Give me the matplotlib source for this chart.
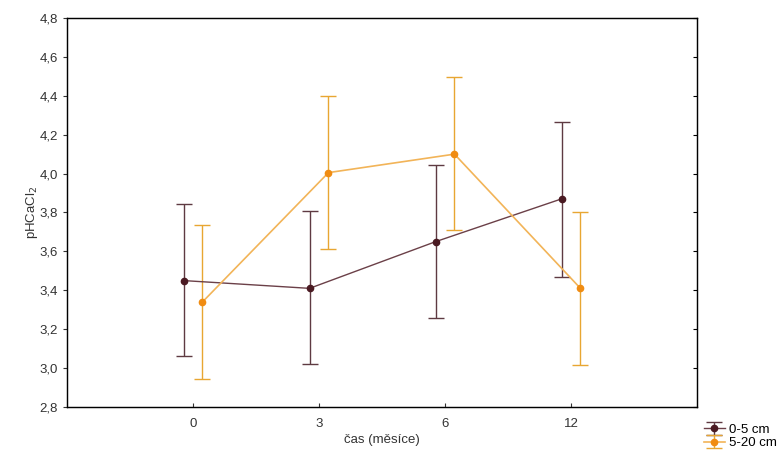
import numpy as np
import matplotlib
matplotlib.use("Agg")
import matplotlib.pyplot as plt

plt.rcParams['font.family'] = ['Liberation Sans', 'DejaVu Sans']

# months (categorical)
months = ['0', '3', '6', '12']

# 0-5 cm depth
mean_05 = [3.45, 3.41, 3.65, 3.87]
lo_05 = [3.06, 3.02, 3.26, 3.47]
hi_05 = [3.845, 3.81, 4.045, 4.265]

# 5-20 cm depth
mean_520 = [3.34, 4.005, 4.10, 3.41]
lo_520 = [2.945, 3.61, 3.71, 3.015]
hi_520 = [3.735, 4.40, 4.495, 3.805]

yticks = [2.8, 3.0, 3.2, 3.4, 3.6, 3.8, 4.0, 4.2, 4.4, 4.6, 4.8]

fig = plt.figure(figsize=(7.82, 4.54), dpi=100)
ax = fig.add_axes([0.0857, 0.1035, 0.8056, 0.8569])

x = np.arange(len(months))
off = 0.075

m1 = np.array(mean_05)
m2 = np.array(mean_520)
err1 = [m1 - np.array(lo_05), np.array(hi_05) - m1]
err2 = [m2 - np.array(lo_520), np.array(hi_520) - m2]

h1 = ax.errorbar(x - off, m1, yerr=err1, color='#6b4048', ecolor='#5e3a42',
                 lw=1.0, elinewidth=1.0, capsize=6, capthick=1.0,
                 marker='o', ms=4.5, mfc='#4a1a22', mec='#4a1a22', label='0-5 cm', zorder=3)
h2 = ax.errorbar(x + off, m2, yerr=err2, color='#f2b458', ecolor='#e8a632',
                 lw=1.2, elinewidth=1.0, capsize=6, capthick=1.0,
                 marker='o', ms=4.5, mfc='#f08c12', mec='#f08c12', label='5-20 cm', zorder=3)

ax.set_xlim(-1, 4)
ax.set_ylim(2.8, 4.8)
ax.set_xticks(x)
ax.set_xticklabels(months)
ax.set_yticks(yticks)
ax.set_yticklabels([f'{v:.1f}'.replace('.', ',') for v in yticks])
ax.tick_params(axis='both', labelsize=9.5, colors='#333333', labelcolor='#333333')
ax.tick_params(axis='y', direction='out', length=3)
ax.tick_params(axis='x', direction='in', length=3, pad=8)
for s in ax.spines.values():
    s.set_color('#222222')
    s.set_linewidth(1.0)

# right ticks drawn inward
ax_r = ax.twinx()
ax_r.set_ylim(ax.get_ylim())
ax_r.set_yticks(yticks)
ax_r.set_yticklabels([])
ax_r.tick_params(axis='y', direction='in', length=3)

ax.set_xlabel('čas (měsíce)', fontsize=9.5, color='#333333', labelpad=3)
ax.set_ylabel('pHCaCl$_2$', fontsize=9.5, color='#333333', labelpad=0)

fig.legend(handles=[h1, h2], labels=['0-5 cm', '5-20 cm'], loc='lower right',
           bbox_to_anchor=(1.005, -0.01), frameon=False, fontsize=9.5,
           handlelength=1.6, handletextpad=0.3, labelspacing=0.1, borderpad=0.2)

fig.savefig('out.png', dpi=100)
